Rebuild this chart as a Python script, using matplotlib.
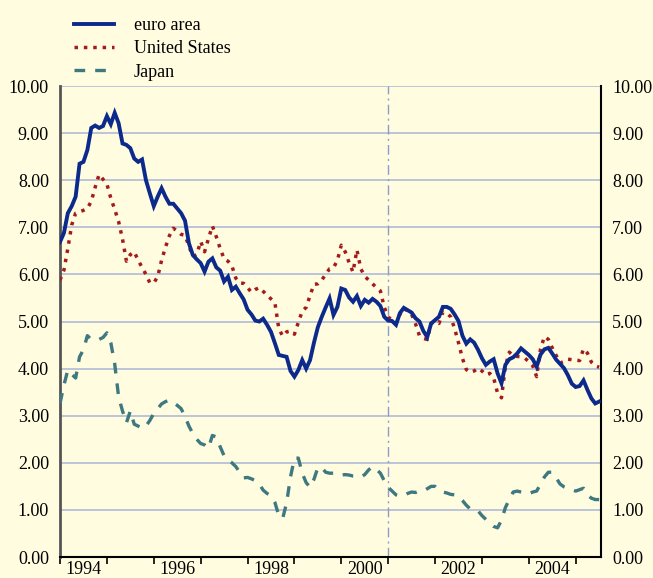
import numpy as np
import matplotlib
matplotlib.use("Agg")
import matplotlib.pyplot as plt

# long-term government bond yields, monthly, Jan 1994 onwards (% p.a.)
euro_area = [
    6.69, 6.88, 7.30, 7.45, 7.65, 8.35, 8.39, 8.64, 9.11, 9.16, 9.11, 9.15,
    9.36, 9.19, 9.43, 9.21, 8.78, 8.75, 8.68, 8.46, 8.39, 8.44, 8.00, 7.72,
    7.45, 7.65, 7.83, 7.65, 7.50, 7.50, 7.40, 7.30, 7.14, 6.66, 6.41, 6.32,
    6.24, 6.06, 6.27, 6.34, 6.15, 6.08, 5.85, 5.95, 5.67, 5.74, 5.60, 5.47,
    5.25, 5.15, 5.02, 5.00, 5.06, 4.93, 4.78, 4.54, 4.29, 4.27, 4.25, 3.95,
    3.83, 3.97, 4.18, 4.00, 4.18, 4.55, 4.88, 5.10, 5.30, 5.49, 5.14, 5.31,
    5.70, 5.67, 5.51, 5.42, 5.54, 5.33, 5.46, 5.40, 5.48, 5.42, 5.33, 5.10,
    5.02, 5.01, 4.93, 5.18, 5.29, 5.24, 5.19, 5.07, 5.00, 4.80, 4.67, 4.96,
    5.03, 5.10, 5.31, 5.31, 5.27, 5.15, 5.01, 4.70, 4.53, 4.62, 4.55, 4.40,
    4.22, 4.08, 4.15, 4.20, 3.90, 3.69, 4.08, 4.20, 4.24, 4.32, 4.43, 4.36,
    4.29, 4.20, 4.04, 4.30, 4.41, 4.44, 4.32, 4.19, 4.10, 4.01, 3.86, 3.68,
    3.61, 3.63, 3.75, 3.55, 3.37, 3.26, 3.30,
]
united_states = [
    5.88, 6.09, 6.55, 7.05, 7.30, 7.33, 7.36, 7.40, 7.55, 7.85, 8.12, 8.02,
    7.92, 7.62, 7.38, 7.12, 6.75, 6.28, 6.42, 6.48, 6.30, 6.15, 6.00, 5.82,
    5.82, 5.95, 6.30, 6.58, 6.82, 6.98, 6.92, 6.85, 6.83, 6.60, 6.38, 6.42,
    6.70, 6.48, 6.76, 7.03, 6.80, 6.55, 6.33, 6.28, 6.18, 5.92, 5.82, 5.81,
    5.72, 5.62, 5.68, 5.72, 5.64, 5.56, 5.48, 5.40, 4.85, 4.69, 4.78, 4.80,
    4.73, 4.98, 5.22, 5.30, 5.55, 5.79, 5.80, 5.88, 6.00, 6.12, 6.14, 6.30,
    6.62, 6.48, 6.25, 6.05, 6.52, 6.12, 5.96, 5.88, 5.80, 5.72, 5.65, 5.30,
    5.10, 5.02, 4.96, 5.15, 5.28, 5.22, 5.15, 4.95, 4.70, 4.64, 4.62, 4.96,
    5.00, 4.96, 5.20, 5.18, 5.10, 4.85, 4.55, 4.22, 3.98, 3.92, 3.95, 4.01,
    3.95, 3.87, 3.90, 3.80, 3.48, 3.38, 4.05, 4.35, 4.27, 4.26, 4.25, 4.22,
    4.15, 4.06, 3.83, 4.42, 4.68, 4.62, 4.44, 4.28, 4.12, 4.15, 4.20, 4.19,
    4.18, 4.17, 4.42, 4.33, 4.14, 4.06, 4.03,
]
japan = [
    3.26, 3.65, 3.97, 3.88, 3.80, 4.25, 4.40, 4.70, 4.62, 4.62, 4.62, 4.66,
    4.76, 4.55, 4.10, 3.40, 3.10, 2.85, 3.10, 2.82, 2.78, 2.73, 2.78, 2.90,
    3.05, 3.15, 3.25, 3.30, 3.33, 3.28, 3.22, 3.15, 2.98, 2.78, 2.62, 2.50,
    2.41, 2.38, 2.31, 2.58, 2.55, 2.34, 2.15, 2.06, 2.00, 1.92, 1.80, 1.68,
    1.69, 1.66, 1.62, 1.55, 1.42, 1.35, 1.30, 1.16, 0.88, 0.82, 1.15, 1.70,
    2.10, 2.10, 1.78, 1.58, 1.48, 1.65, 1.90, 1.90, 1.80, 1.78, 1.78, 1.74,
    1.74, 1.75, 1.74, 1.72, 1.72, 1.70, 1.75, 1.85, 1.92, 1.86, 1.78, 1.62,
    1.48, 1.40, 1.32, 1.30, 1.30, 1.35, 1.38, 1.37, 1.40, 1.40, 1.45, 1.50,
    1.50, 1.42, 1.38, 1.36, 1.33, 1.32, 1.28, 1.20, 1.10, 1.02, 1.00, 0.98,
    0.88, 0.80, 0.72, 0.65, 0.62, 0.78, 1.05, 1.22, 1.38, 1.40, 1.38, 1.36,
    1.34, 1.38, 1.40, 1.55, 1.70, 1.80, 1.80, 1.68, 1.55, 1.49, 1.46, 1.43,
    1.40, 1.43, 1.46, 1.32, 1.25, 1.22, 1.22,
]
year_labels = ["1994", "1996", "1998", "2000", "2002", "2004"]
y_ticks = [0, 1, 2, 3, 4, 5, 6, 7, 8, 9, 10]

bg = "#FFFCE0"
grid_col = "#A9B5D8"
serif = "Liberation Serif"

t = 1994 + np.arange(len(euro_area)) / 12.0

fig = plt.figure(figsize=(6.53, 5.78), dpi=100, facecolor=bg)
ax = fig.add_axes([0.0919, 0.0363, 0.8285, 0.8149], facecolor=bg)

for y in y_ticks[1:]:
    ax.axhline(y, color=grid_col, lw=1.1, zorder=1)
ax.axvline(2001, color="#8E9CC9", lw=1.0, dashes=(7, 3, 1.5, 3), zorder=1)

ax.plot(t, japan, color="#3E7880", lw=2.4, dashes=(3.2, 3), label="Japan", zorder=3)
ax.plot(t, united_states, color="#A51B1B", lw=2.5, dashes=(1, 1.7),
        dash_capstyle="butt", label="United States", zorder=4)
ax.plot(t, euro_area, color="#0C2A8C", lw=2.8, solid_joinstyle="miter",
        label="euro area", zorder=5)

ax.set_xlim(1994, 2005.54)
ax.set_ylim(0, 10)

# year ticks at boundaries, labels centred within each even year
ax.set_xticks(np.arange(1994, 2006))
ax.set_xticklabels([])
ax.set_xticks([int(y) + 0.5 for y in year_labels], minor=True)
ax.set_xticklabels(year_labels, minor=True, fontfamily=serif, fontsize=13)
ax.tick_params(axis="x", which="major", direction="out", length=5, width=1.2, color="black")
ax.tick_params(axis="x", which="minor", length=0, pad=3)

ax.set_yticks(y_ticks)
ax.set_yticklabels([f"{v:.2f}" for v in y_ticks], fontfamily=serif, fontsize=13)
ax.tick_params(axis="y", length=0, pad=8, labelleft=True, labelright=True)

ax.spines["top"].set_visible(False)
ax.spines["left"].set_color("#555555")
ax.spines["left"].set_linewidth(2)
ax.spines["right"].set_color("black")
ax.spines["right"].set_linewidth(1.5)
ax.spines["bottom"].set_color("black")
ax.spines["bottom"].set_linewidth(1.5)

handles, labels = ax.get_legend_handles_labels()
order = [2, 1, 0]
fig.legend([handles[i] for i in order], [labels[i] for i in order],
           loc="upper left", bbox_to_anchor=(0.087, 1.0), frameon=False,
           prop={"family": serif, "size": 13}, handlelength=2.2,
           handletextpad=1.1, labelspacing=0.35, borderpad=0.45)

fig.savefig("out.png", dpi=100, facecolor=bg)
